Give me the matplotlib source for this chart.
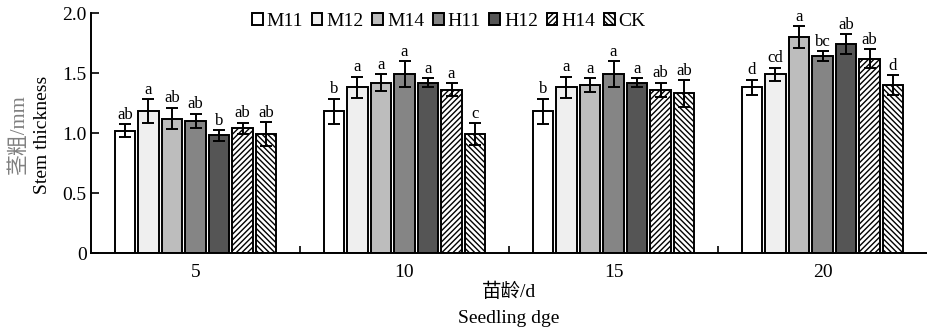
import matplotlib.pyplot as plt
import numpy as np

plt.rcParams['font.family'] = ['Liberation Serif', 'Noto Sans CJK SC']
plt.rcParams['hatch.linewidth'] = 1.0

ages = ['5', '10', '15', '20']
treatments = ['M11', 'M12', 'M14', 'H11', 'H12', 'H14', 'CK']

# mean stem thickness (mm), one row per treatment, columns = seedling age
means = {
    'M11': [1.02, 1.18, 1.18, 1.38],
    'M12': [1.18, 1.38, 1.38, 1.49],
    'M14': [1.12, 1.42, 1.40, 1.80],
    'H11': [1.10, 1.49, 1.49, 1.64],
    'H12': [0.98, 1.42, 1.42, 1.74],
    'H14': [1.04, 1.36, 1.36, 1.62],
    'CK':  [0.99, 0.99, 1.33, 1.40],
}
errors = {
    'M11': [0.055, 0.105, 0.105, 0.065],
    'M12': [0.10, 0.09, 0.09, 0.055],
    'M14': [0.09, 0.07, 0.055, 0.09],
    'H11': [0.06, 0.11, 0.11, 0.04],
    'H12': [0.045, 0.035, 0.035, 0.085],
    'H14': [0.045, 0.055, 0.06, 0.08],
    'CK':  [0.10, 0.09, 0.11, 0.08],
}
letters = {
    'M11': ['ab', 'b', 'b', 'd'],
    'M12': ['a', 'a', 'a', 'cd'],
    'M14': ['ab', 'a', 'a', 'a'],
    'H11': ['ab', 'a', 'a', 'bc'],
    'H12': ['b', 'a', 'a', 'ab'],
    'H14': ['ab', 'a', 'ab', 'ab'],
    'CK':  ['ab', 'c', 'ab', 'd'],
}

styles = {
    'M11': dict(color='white', hatch=None),
    'M12': dict(color='#efefef', hatch=None),
    'M14': dict(color='#bdbdbd', hatch=None),
    'H11': dict(color='#858585', hatch=None),
    'H12': dict(color='#555555', hatch=None),
    'H14': dict(color='white', hatch='//////'),
    'CK':  dict(color='white', hatch='\\\\\\\\\\\\'),
}

fig = plt.figure(figsize=(9.27, 3.3), dpi=100)
ax = fig.add_axes([91 / 927, 77 / 330, 836 / 927, 240 / 330])

x = np.arange(1, len(ages) + 1)
width = 0.096
pitch = 0.1125

for i, t in enumerate(treatments):
    pos = x + (i - 3) * pitch
    st = styles[t]
    ax.bar(pos, means[t], width=width, color=st['color'], hatch=st['hatch'],
           edgecolor='black', linewidth=1.4, label=t, zorder=2)
    ax.errorbar(pos, means[t], yerr=errors[t], fmt='none', ecolor='black',
                elinewidth=1.4, capsize=4.5, capthick=1.4, zorder=3)
    for p, m, e, lab in zip(pos, means[t], errors[t], letters[t]):
        ax.text(p, m + e + 0.012, lab, ha='center', va='bottom', fontsize=12)

ax.set_xlim(0.5, 4.5)
ax.set_ylim(0, 2.0)
ax.set_yticks([0, 0.5, 1.0, 1.5, 2.0])
ax.set_yticklabels(['0', '0.5', '1.0', '1.5', '2.0'])
ax.set_xticks([1.5, 2.5, 3.5])
ax.set_xticklabels([])
ax.set_xticks(x, minor=True)
ax.set_xticklabels(ages, minor=True)
ax.tick_params(axis='x', which='major', direction='in', length=5, width=1.2)
ax.tick_params(axis='x', which='minor', length=0, pad=8, labelsize=14)
ax.tick_params(axis='y', direction='in', length=6, width=1.2, labelsize=14, pad=3)

for s in ['top', 'right']:
    ax.spines[s].set_visible(False)
for s in ['left', 'bottom']:
    ax.spines[s].set_linewidth(1.4)

fig.text(0.021, 0.59, '茎粗/mm', rotation=90, ha='center', va='center',
         fontsize=15, color='#808080')
fig.text(0.046, 0.59, 'Stem thickness', rotation=90, ha='center', va='center',
         fontsize=14)
fig.text(509 / 927, 0.115, '苗龄/d', ha='center', va='center', fontsize=14)
fig.text(509 / 927, 0.035, 'Seedling dge', ha='center', va='center', fontsize=14)

ax.legend(loc='upper center', bbox_to_anchor=(0.428, 1.05), ncol=7, frameon=False,
          fontsize=14, handlelength=0.55, handleheight=0.55, handletextpad=0.2,
          columnspacing=0.45, borderpad=0.1)

fig.savefig('out.png', dpi=100)
